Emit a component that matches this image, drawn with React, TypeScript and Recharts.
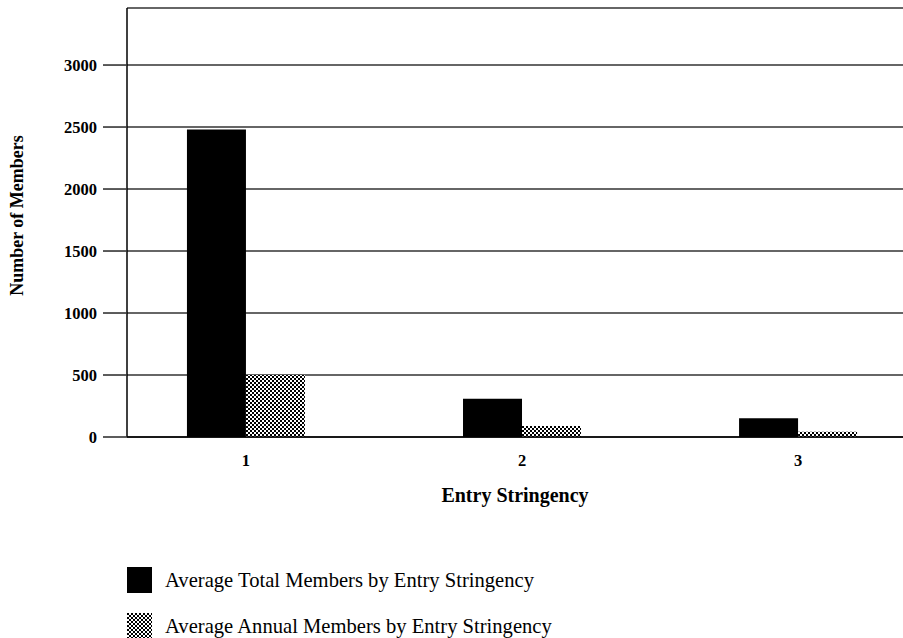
import React from 'react';
import { BarChart, Bar, XAxis, YAxis, CartesianGrid, Legend } from 'recharts';

const categories = [1, 2, 3];
const totalMembers = [2480, 309, 151];
const annualMembers = [500, 89, 43];
const yTicks = [0, 500, 1000, 1500, 2000, 2500, 3000];
const seriesNames = ['Average Total Members by Entry Stringency', 'Average Annual Members by Entry Stringency'];

const data = categories.map((c, i) => ({ x: c, total: totalMembers[i], annual: annualMembers[i] }));

const FONT = '"Liberation Serif", "Times New Roman", serif';
const fills = ['#000', 'url(#dots)'];

const LegendContent = () => (
  <div style={{ paddingLeft: 127, fontFamily: FONT, fontSize: 20.6, color: '#000' }}>
    {seriesNames.map((name, i) => (
      <div key={name} style={{ display: 'flex', alignItems: 'center', height: 46 }}>
        <svg width={25} height={26} style={{ marginRight: 13 }}>
          <rect x={0} y={0} width={25} height={26} fill={fills[i]} />
        </svg>
        <span>{name}</span>
      </div>
    ))}
  </div>
);

const YLabel = (props: any) => {
  const vb = props.viewBox || { x: 0, y: 0, width: 0, height: 0 };
  const cx = vb.x + 17;
  const cy = vb.y + vb.height / 2 - 7;
  return (
    <text
      x={cx}
      y={cy}
      transform={`rotate(-90, ${cx}, ${cy})`}
      textAnchor="middle"
      dominantBaseline="central"
      fill="#000"
      fontSize={18}
      fontWeight="bold"
      fontFamily={FONT}
    >
      Number of Members
    </text>
  );
};

export default function App() {
  return (
    <div style={{ position: 'absolute', left: 0, top: 0, width: 903, height: 638, background: '#fff' }}>
      <svg width={0} height={0} style={{ position: 'absolute' }}>
        <defs>
          <pattern id="dots" width={4} height={4} patternUnits="userSpaceOnUse">
            <rect width={4} height={4} fill="#fff" />
            <rect x={0} y={0} width={2} height={2} fill="#000" />
            <rect x={2} y={2} width={2} height={2} fill="#000" />
          </pattern>
        </defs>
      </svg>
      <BarChart
        width={903}
        height={638}
        data={data}
        margin={{ top: 8, right: 0, bottom: 0, left: 0 }}
        barGap={0}
      >
        <CartesianGrid horizontal vertical={false} stroke="#333" strokeWidth={1.6} />
        <XAxis
          dataKey="x"
          type="number"
          domain={[0.569, 3.38]}
          allowDataOverflow
          ticks={categories}
          tickLine={false}
          tickSize={0}
          tickMargin={17}
          height={120}
          axisLine={{ stroke: '#000', strokeWidth: 1.5 }}
          tick={{ fill: '#000', fontSize: 16.5, fontWeight: 'bold', fontFamily: FONT }}
          label={{ value: 'Entry Stringency', position: 'insideTop', offset: 51, fill: '#000', fontSize: 20, fontWeight: 'bold', fontFamily: FONT }}
        />
        <YAxis
          type="number"
          domain={[0, 3460]}
          ticks={yTicks}
          width={127}
          tickSize={24}
          tickMargin={6}
          tickLine={{ stroke: '#333', strokeWidth: 1.6 }}
          axisLine={{ stroke: '#000', strokeWidth: 1.5 }}
          tick={{ fill: '#000', fontSize: 16.5, fontWeight: 'bold', fontFamily: FONT }}
          label={<YLabel />}
        />
        <Legend verticalAlign="bottom" height={81} content={<LegendContent />} />
        <Bar dataKey="total" name={seriesNames[0]} fill={fills[0]} barSize={59} isAnimationActive={false} />
        <Bar dataKey="annual" name={seriesNames[1]} fill={fills[1]} barSize={59} isAnimationActive={false} />
      </BarChart>
    </div>
  );
}
